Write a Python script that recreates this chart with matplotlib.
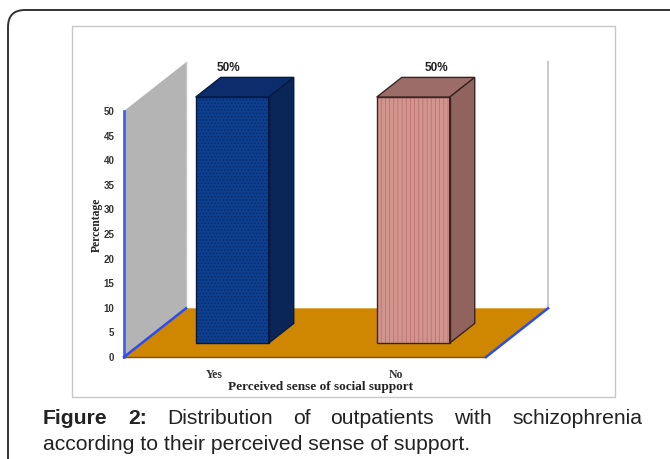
import matplotlib
matplotlib.use('Agg')
import matplotlib.pyplot as plt
from matplotlib.patches import Polygon, Rectangle, FancyBboxPatch

categories = ['Yes', 'No']
values = [50, 50]
value_labels = ['50%', '50%']
y_ticks = [0, 5, 10, 15, 20, 25, 30, 35, 40, 45, 50]
x_title = 'Perceived sense of social support'
y_title = 'Percentage'
caption_line1 = ['Figure', '2:', 'Distribution', 'of', 'outpatients', 'with', 'schizophrenia']
caption_line2 = 'according to their perceived sense of support.'

W, H = 670, 459
DEPTH_X = 0.3425   # how far the back of the box sits, x units
DEPTH_Y = 9.9      # same in y units
BAR_W = 0.403
FRONT = 0.285      # bar front and back, as share of the depth
BACK = 0.69

plt.rcParams['hatch.linewidth'] = 0.6
fig = plt.figure(figsize=(W / 100, H / 100), dpi=100)

# page layer in pixels, y going down
bg = fig.add_axes([0, 0, 1, 1])
bg.set_xlim(0, W)
bg.set_ylim(H, 0)
bg.axis('off')
bg.add_patch(FancyBboxPatch((8, 10), 720, 520, boxstyle='round,pad=0,rounding_size=17',
                            fc='white', ec='#333333', lw=1.4, mutation_aspect=1))
bg.add_patch(Rectangle((72, 26), 543, 371, fc='white', ec='#c8c8c8', lw=1.0))

# chart axes: y 0 at pixel 357, 50 at pixel 111
ax = fig.add_axes([124 / W, 1 - 357 / H, 362 / W, 246 / H])
ax.patch.set_alpha(0)
ax.set_xlim(0, 2)
ax.set_ylim(0, 50)
for s in ['top', 'right', 'bottom']:
    ax.spines[s].set_visible(False)
ax.spines['left'].set_color('#3a5cf0')
ax.spines['left'].set_linewidth(1.9)


def proj(x, y, d):
    return (x + d * DEPTH_X, y + d * DEPTH_Y)


def poly(pts, **kw):
    ax.add_patch(Polygon(pts, closed=True, clip_on=False, **kw))


top = max(y_ticks)
# wall, floor and the blue edges
poly([proj(0, 0, 0), proj(0, top, 0), proj(0, top, 1), proj(0, 0, 1)],
     fc='#b4b4b4', ec='none', zorder=1)
ax.plot([DEPTH_X, DEPTH_X], [0 + DEPTH_Y, top + DEPTH_Y], color='#c4c4c4', lw=1, clip_on=False, zorder=1)
poly([proj(0, 0, 0), proj(2, 0, 0), proj(2, 0, 1), proj(0, 0, 1)],
     fc='#cf8600', ec='none', zorder=1)
ax.plot([0, 2], [0, 0], color='#7a5208', lw=1, clip_on=False, zorder=2)
ax.plot([2 + DEPTH_X, 2 + DEPTH_X], [DEPTH_Y, top + DEPTH_Y], color='#cccccc', lw=1.5, clip_on=False, zorder=1)
for x0 in [0, 2]:
    a, b = proj(x0, 0, 0), proj(x0, 0, 1)
    ax.plot([a[0], b[0]], [a[1], b[1]], color='#2a4df0', lw=1.8, clip_on=False, zorder=3)

# front colour, hatch, hatch colour, top, side, outline
looks = [('#0d3f8f', '.....', '#0a2a66', '#0c2c6c', '#0a2558', '#061a40'),
         ('#d2958d', '||||', '#bd7470', '#9c6d68', '#90635f', '#3a2422')]
label_shift = [-29, -2]

for i, (v, lab) in enumerate(zip(values, value_labels)):
    front_c, hatch, hatch_c, top_c, side_c, edge = looks[i]
    l, r = i + 0.5 - BAR_W / 2, i + 0.5 + BAR_W / 2
    poly([proj(l, 0, FRONT), proj(r, 0, FRONT), proj(r, v, FRONT), proj(l, v, FRONT)],
         fc=front_c, ec=hatch_c, hatch=hatch, lw=0, zorder=4)
    poly([proj(l, 0, FRONT), proj(r, 0, FRONT), proj(r, v, FRONT), proj(l, v, FRONT)],
         fc='none', ec=edge, lw=1, zorder=5)
    poly([proj(l, v, FRONT), proj(r, v, FRONT), proj(r, v, BACK), proj(l, v, BACK)],
         fc=top_c, ec=edge, lw=1, zorder=4)
    poly([proj(r, 0, FRONT), proj(r, 0, BACK), proj(r, v, BACK), proj(r, v, FRONT)],
         fc=side_c, ec=edge, lw=1, zorder=4)
    ax.annotate(lab, xy=proj(i + 0.5, v, BACK), xytext=(label_shift[i], 3),
                textcoords='offset pixels', ha='center', va='bottom',
                fontsize=8.5, fontweight='bold', family='Liberation Sans', color='#222222',
                annotation_clip=False)

ax.set_yticks(y_ticks)
ax.set_yticklabels([str(t) for t in y_ticks], fontsize=7, fontweight='bold',
                   family='Liberation Sans', color='#333333')
ax.set_xticks([0.5, 1.5])
ax.set_xticklabels(categories, fontsize=8.5, fontweight='bold', family='Liberation Serif', color='#333333')
ax.tick_params(axis='both', length=0, pad=7)
ax.tick_params(axis='x', pad=9)

bg.text(320, 387, x_title, ha='center', va='center', fontsize=9.5, fontweight='bold',
        family='Liberation Serif', color='#222222')
bg.text(97, 225, y_title, ha='center', va='center', rotation=90, fontsize=8.4, fontweight='bold',
        family='Liberation Serif', color='#222222')

# first caption line is justified between 43 and 642
rend = fig.canvas.get_renderer()
words = []
for n, w in enumerate(caption_line1):
    words.append(bg.text(0, 419, w, va='center', ha='left', fontsize=15.2, color='#222222',
                         family='Liberation Sans', fontweight='bold' if n < 2 else 'normal'))
widths = [t.get_window_extent(rend).width for t in words]
gap = (642 - 43 - sum(widths)) / (len(words) - 1)
x = 43
for t, wd in zip(words, widths):
    t.set_x(x)
    x += wd + gap
bg.text(43, 444, caption_line2, va='center', ha='left', fontsize=15.2, color='#222222',
        family='Liberation Sans')

fig.savefig('out.png', dpi=100)
